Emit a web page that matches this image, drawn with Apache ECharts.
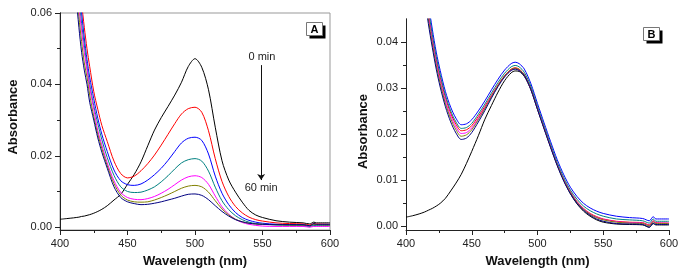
<!DOCTYPE html>
<html>
<head>
<meta charset="utf-8">
<script src="https://cdn.jsdelivr.net/npm/echarts@6/dist/echarts.min.js"></script>
<style>
  html, body { margin: 0; padding: 0; background: #fff; }
  #chart { width: 685px; height: 275px; }
</style>
</head>
<body>
<div id="chart"></div>
<script>
// ---- panel A: spectra after 0 ... 60 min ----
const wlA = [400, 405, 410, 412, 414, 416, 418, 420, 422, 425, 428, 431, 435, 440, 445, 450, 455, 460, 465, 470, 475, 480, 485, 490, 495, 500, 505, 510, 515, 520, 525, 530, 535, 540, 545, 550, 560, 570, 580, 585, 588, 590, 600];
const aBlack = [0.0022, 0.0024, 0.0026, 0.0027, 0.0028, 0.0030, 0.0031, 0.0033, 0.0035, 0.0039, 0.0044, 0.0050, 0.0060, 0.0076, 0.0092, 0.0120, 0.0148, 0.0183, 0.0228, 0.0272, 0.0307, 0.0338, 0.0370, 0.0406, 0.0450, 0.0472, 0.0448, 0.0385, 0.0280, 0.0186, 0.0132, 0.0098, 0.0070, 0.0047, 0.0034, 0.0027, 0.0018, 0.0014, 0.0012, 0.0009, 0.0014, 0.0012, 0.0012];
const aRed = [null, null, 0.095, 0.083, 0.072, 0.063, 0.056, 0.050, 0.045, 0.038, 0.033, 0.0285, 0.0240, 0.0185, 0.0150, 0.0138, 0.0143, 0.0158, 0.0178, 0.0202, 0.0230, 0.0260, 0.0290, 0.0317, 0.0332, 0.0336, 0.0322, 0.0270, 0.0192, 0.0128, 0.0086, 0.0058, 0.0040, 0.0028, 0.0021, 0.0017, 0.0012, 0.0010, 0.0009, 0.0006, 0.0010, 0.0009, 0.0008];
const aBlue = [null, null, 0.092, 0.079, 0.068, 0.060, 0.053, 0.047, 0.042, 0.036, 0.0305, 0.026, 0.0212, 0.0160, 0.0130, 0.0119, 0.0117, 0.0121, 0.0132, 0.0147, 0.0165, 0.0187, 0.0212, 0.0236, 0.0249, 0.0252, 0.0243, 0.0205, 0.0143, 0.0095, 0.0063, 0.0041, 0.0027, 0.0019, 0.0014, 0.0011, 0.0008, 0.0007, 0.0006, 0.0003, 0.0007, 0.0006, 0.0006];
const aTeal = [null, null, 0.090, 0.076, 0.065, 0.057, 0.051, 0.045, 0.040, 0.034, 0.029, 0.0245, 0.0195, 0.0145, 0.0113, 0.0100, 0.0097, 0.0098, 0.0104, 0.0113, 0.0127, 0.0144, 0.0163, 0.0180, 0.0189, 0.0192, 0.0185, 0.0157, 0.0112, 0.0074, 0.0049, 0.0032, 0.0021, 0.0014, 0.0010, 0.0008, 0.0006, 0.0005, 0.0004, 0.0001, 0.0005, 0.0004, 0.0004];
const aMagenta = [null, null, 0.089, 0.073, 0.062, 0.055, 0.049, 0.044, 0.039, 0.033, 0.027, 0.023, 0.0180, 0.0130, 0.0097, 0.0083, 0.0078, 0.0077, 0.0080, 0.0086, 0.0095, 0.0106, 0.0119, 0.0132, 0.0141, 0.0144, 0.0139, 0.0120, 0.0087, 0.0057, 0.0036, 0.0022, 0.0013, 0.0008, 0.0005, 0.0003, 0.0002, 0.0002, 0.0002, 0.0000, 0.0002, 0.0002, 0.0002];
const aOlive = [null, null, 0.087, 0.069, 0.059, 0.052, 0.046, 0.042, 0.037, 0.031, 0.026, 0.022, 0.0172, 0.0122, 0.0090, 0.0076, 0.0071, 0.0070, 0.0071, 0.0076, 0.0083, 0.0091, 0.0100, 0.0109, 0.0115, 0.0117, 0.0113, 0.0098, 0.0074, 0.0051, 0.0034, 0.0022, 0.0015, 0.0011, 0.0009, 0.0008, 0.0007, 0.0006, 0.0006, 0.0004, 0.0008, 0.0007, 0.0006];
const aNavy = [null, null, 0.085, 0.065, 0.056, 0.049, 0.044, 0.040, 0.035, 0.030, 0.025, 0.021, 0.0165, 0.0113, 0.0083, 0.0071, 0.0066, 0.0063, 0.0064, 0.0067, 0.0071, 0.0076, 0.0081, 0.0087, 0.0092, 0.0093, 0.0089, 0.0077, 0.0060, 0.0044, 0.0031, 0.0021, 0.0015, 0.0011, 0.0009, 0.0008, 0.0007, 0.0007, 0.0007, 0.0004, 0.0010, 0.0008, 0.0008];

// ---- panel B ----
const wlB = [400, 405, 410, 414, 417, 420, 423, 426, 430, 434, 438, 442, 446, 450, 455, 460, 465, 470, 475, 480, 483, 486, 490, 495, 500, 505, 510, 515, 520, 525, 530, 535, 540, 545, 550, 560, 570, 580, 585, 588, 590, 600];
const bBlack = [0.0019, 0.0022, 0.0026, 0.0030, 0.0034, 0.0038, 0.0043, 0.0049, 0.0060, 0.0076, 0.0093, 0.0112, 0.0136, 0.0162, 0.0196, 0.0232, 0.0262, 0.0291, 0.0316, 0.0333, 0.0337, 0.0336, 0.0325, 0.0296, 0.0254, 0.0213, 0.0172, 0.0133, 0.0099, 0.0070, 0.0048, 0.0032, 0.0021, 0.0013, 0.0008, 0.0004, 0.0003, 0.0002, -0.0003, 0.0005, 0.0002, 0.0002];
const bRed = [null, null, 0.065, 0.0532, 0.0465, 0.0410, 0.0362, 0.0323, 0.0279, 0.0245, 0.0221, 0.0207, 0.0209, 0.0218, 0.0238, 0.0260, 0.0284, 0.0307, 0.0327, 0.0341, 0.0344, 0.0341, 0.0329, 0.0298, 0.0256, 0.0214, 0.0173, 0.0134, 0.0101, 0.0074, 0.0053, 0.0038, 0.0027, 0.0020, 0.0015, 0.0010, 0.0008, 0.0007, 0.0002, 0.0011, 0.0007, 0.0006];
const bBlue = [null, null, 0.068, 0.0555, 0.0485, 0.0428, 0.0378, 0.0338, 0.0292, 0.0258, 0.0234, 0.0220, 0.0222, 0.0231, 0.0250, 0.0272, 0.0296, 0.0319, 0.0339, 0.0353, 0.0356, 0.0353, 0.0341, 0.0309, 0.0266, 0.0224, 0.0183, 0.0144, 0.0111, 0.0084, 0.0064, 0.0049, 0.0039, 0.0032, 0.0027, 0.0021, 0.0018, 0.0016, 0.0011, 0.0020, 0.0015, 0.0015];
const bTeal = [null, null, 0.066, 0.0540, 0.0472, 0.0417, 0.0368, 0.0329, 0.0284, 0.0250, 0.0226, 0.0212, 0.0214, 0.0223, 0.0243, 0.0265, 0.0289, 0.0312, 0.0332, 0.0346, 0.0349, 0.0346, 0.0334, 0.0303, 0.0260, 0.0218, 0.0177, 0.0138, 0.0105, 0.0078, 0.0058, 0.0043, 0.0033, 0.0026, 0.0021, 0.0015, 0.0013, 0.0011, 0.0006, 0.0015, 0.0010, 0.0010];
const bMagenta = [null, null, 0.064, 0.0524, 0.0457, 0.0403, 0.0355, 0.0316, 0.0272, 0.0239, 0.0215, 0.0201, 0.0203, 0.0213, 0.0234, 0.0257, 0.0282, 0.0305, 0.0325, 0.0339, 0.0342, 0.0339, 0.0328, 0.0297, 0.0255, 0.0213, 0.0172, 0.0133, 0.0100, 0.0073, 0.0052, 0.0037, 0.0026, 0.0019, 0.0014, 0.0009, 0.0007, 0.0006, 0.0001, 0.0010, 0.0006, 0.0006];
const bOlive = [null, null, 0.063, 0.0516, 0.0450, 0.0396, 0.0349, 0.0310, 0.0266, 0.0233, 0.0209, 0.0195, 0.0198, 0.0209, 0.0231, 0.0255, 0.0281, 0.0305, 0.0326, 0.0340, 0.0343, 0.0340, 0.0328, 0.0297, 0.0254, 0.0212, 0.0171, 0.0132, 0.0099, 0.0072, 0.0051, 0.0036, 0.0025, 0.0018, 0.0013, 0.0008, 0.0006, 0.0005, 0.0000, 0.0009, 0.0005, 0.0005];
const bNavy = [null, null, 0.061, 0.0505, 0.0440, 0.0388, 0.0341, 0.0302, 0.0259, 0.0226, 0.0202, 0.0188, 0.0191, 0.0203, 0.0226, 0.0251, 0.0278, 0.0303, 0.0324, 0.0338, 0.0341, 0.0338, 0.0327, 0.0296, 0.0253, 0.0211, 0.0170, 0.0131, 0.0097, 0.0070, 0.0049, 0.0034, 0.0023, 0.0015, 0.0010, 0.0005, 0.0004, 0.0003, -0.0003, 0.0006, 0.0003, 0.0003];

// ticks
const xTicks = [400, 450, 500, 550, 600];
const yTicksA = [0, 0.02, 0.04, 0.06];
const yMinorA = [0.01, 0.03, 0.05];
const yTicksB = [0, 0.01, 0.02, 0.03, 0.04];
const yMinorB = [0.005, 0.015, 0.025, 0.035];

// annotation in panel A (time arrow)
const arrowWl = 549;
const arrowFrom = 0.0454;
const arrowTo = 0.0132;
const startLabel = '0 min';
const endLabel = '60 min';

const colors = ['#000000', '#ff0000', '#0000ff', '#008080', '#ff00ff', '#808000', '#000080'];
const FONT = 'Liberation Sans, Arial, sans-serif';
const INK = '#222';

function pairs(wl, ys) {
  return wl.map((x, i) => [x, ys[i]]).filter(p => p[1] !== null);
}

function xAxisFor(gi) {
  return {
    type: 'value', gridIndex: gi, min: 400, max: 600, interval: 50,
    axisLine: { onZero: false, lineStyle: { color: INK, width: 1 } },
    axisTick: { length: 5, lineStyle: { color: INK } },
    minorTick: { show: true, splitNumber: 2, length: 3, lineStyle: { color: INK } },
    axisLabel: { customValues: xTicks, margin: 8, fontSize: 11, color: INK, fontFamily: FONT },
    splitLine: { show: false },
    name: 'Wavelength (nm)', nameLocation: 'middle', nameGap: 25,
    nameTextStyle: { fontWeight: 'bold', fontSize: 13, fontFamily: FONT, color: '#111' }
  };
}

function yAxisFor(gi, min, max, ticks, gap, pad) {
  return {
    type: 'value', gridIndex: gi, position: 'left', min: min, max: max,
    axisLine: { onZero: false, lineStyle: { color: INK, width: 1 } },
    axisTick: { customValues: ticks, length: 5, lineStyle: { color: INK } },
    axisLabel: {
      customValues: ticks, margin: 8, fontSize: 11, color: INK, fontFamily: FONT,
      formatter: v => v.toFixed(2)
    },
    splitLine: { show: false },
    name: 'Absorbance', nameLocation: 'middle', nameGap: gap, nameRotate: 90,
    nameTextStyle: { fontWeight: 'bold', fontSize: 13, fontFamily: FONT, color: '#111', padding: pad }
  };
}

// second left axis on the same grid, only for the short minor ticks
function yMinorFor(gi, min, max, ticks) {
  return {
    type: 'value', gridIndex: gi, position: 'left', offset: 0, min: min, max: max,
    axisLine: { show: true, onZero: false, lineStyle: { color: INK, width: 1 } },
    axisTick: { show: true, customValues: ticks, length: 3, lineStyle: { color: INK } },
    axisLabel: { show: false },
    splitLine: { show: false }
  };
}

function lines(wl, sets, xi, yi) {
  return sets.map((ys, k) => ({
    type: 'line', xAxisIndex: xi, yAxisIndex: yi,
    data: pairs(wl, ys), showSymbol: false, smooth: 0.3, silent: true,
    lineStyle: { width: 1, color: colors[k] }, itemStyle: { color: colors[k] }
  }));
}

const seriesA = lines(wlA, [aBlack, aRed, aBlue, aTeal, aMagenta, aOlive, aNavy], 0, 0);
seriesA[0].markLine = {
  silent: true, symbol: ['none', 'arrow'], symbolSize: 6,
  lineStyle: { color: '#111', width: 1, type: 'solid' },
  label: { show: false },
  data: [[{ coord: [arrowWl, arrowFrom] }, { coord: [arrowWl, arrowTo] }]]
};
seriesA[0].markPoint = {
  silent: true, symbol: 'circle', symbolSize: 0,
  label: { show: true, position: 'inside', formatter: '{b}', fontSize: 11, color: INK, fontFamily: FONT },
  data: [
    { name: startLabel, coord: [arrowWl + 0.6, 0.0476] },
    { name: endLabel, coord: [arrowWl, 0.0110] }
  ]
};
const seriesB = lines(wlB, [bBlack, bRed, bBlue, bTeal, bMagenta, bOlive, bNavy], 1, 2);

function panelTag(x, y, txt) {
  return {
    type: 'group', left: x, top: y, silent: true,
    children: [
      { type: 'rect', shape: { x: 3, y: 3, width: 16, height: 13 }, style: { fill: '#000' } },
      { type: 'rect', shape: { x: 0, y: 0, width: 16, height: 13 }, style: { fill: '#fff', stroke: '#777', lineWidth: 1 } },
      { type: 'text', x: 8, y: 7, style: { text: txt, font: 'bold 11px ' + FONT, fill: '#000', align: 'center', verticalAlign: 'middle' } }
    ]
  };
}

const chart = echarts.init(document.getElementById('chart'), null, { renderer: 'canvas' });
chart.setOption({
  animation: false,
  backgroundColor: '#fff',
  grid: [
    { left: 60, top: 13, width: 270, height: 217, show: true, borderColor: '#999', borderWidth: 1, backgroundColor: 'transparent' },
    { left: 406, top: 19, width: 263, height: 211 }
  ],
  xAxis: [xAxisFor(0), xAxisFor(1)],
  yAxis: [
    yAxisFor(0, -0.0008, 0.06, yTicksA, 40, [0, 0, 0, 9]),
    yMinorFor(0, -0.0008, 0.06, yMinorA),
    yAxisFor(1, -0.0009, 0.045, yTicksB, 36, [0, 14, 0, 0]),
    yMinorFor(1, -0.0009, 0.045, yMinorB)
  ],
  series: seriesA.concat(seriesB),
  graphic: [panelTag(306, 22, 'A'), panelTag(643, 27, 'B')]
});
</script>
</body>
</html>
